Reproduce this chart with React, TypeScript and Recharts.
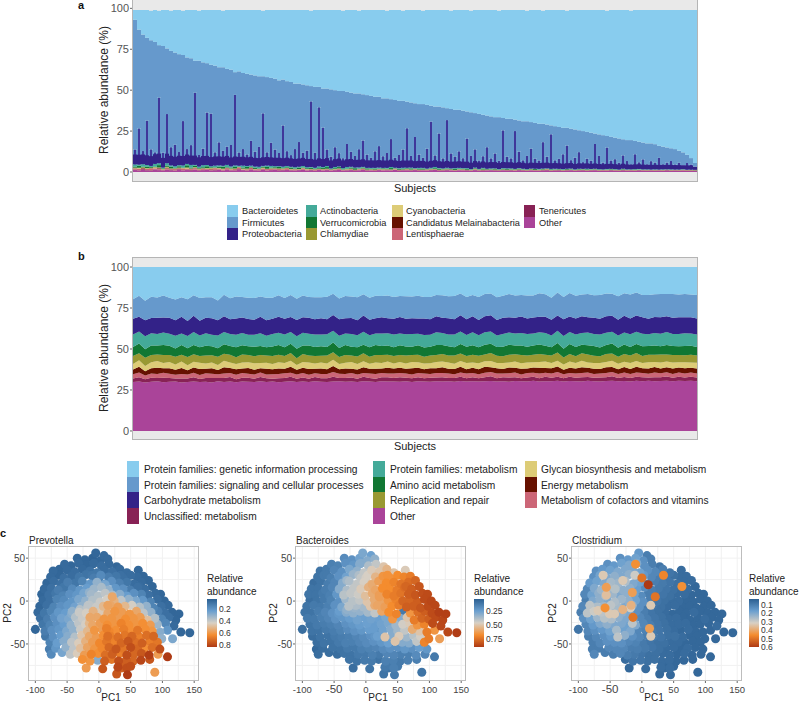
import { BarChart, Bar, AreaChart, Area, ScatterChart, Scatter, Cell, CartesianGrid, XAxis, YAxis, ZAxis } from "recharts";

const FONT = "'Liberation Sans', Arial, sans-serif";

// panel a, read per subject (left to right)
const firmicutesTop = [
  93,87,84,82,80.5,79.5,77.5,77,75.5,74,
  73,72,71.5,70,69.5,68,68,67,66.5,65.5,
  65,64,64,63,62.5,61,61.5,60.5,60,59.5,
  59,58.5,58.5,58,57.5,57,56,56.5,55.5,55,
  54,54,53.5,53,52.5,52,52,51,51,50.5,
  50,49.5,49.5,49,48.5,48,48,47.5,47,46.5,
  46,46,45,45,44.5,44,43.5,43.5,43,42.5,
  42,41.5,41.5,41,40.5,40,40,39.5,39,38.5,
  38,38,37.5,37,36.5,36,35.5,35,34.5,34,
  33.5,33.5,33,32.5,32.5,32,31.5,31,31,30.5,
  30,29.5,29.5,29,28.5,28,27.5,27,27,26.5,
  26,25.5,25,24.5,24,23.5,23,22.5,22,21.5,
  21,20.5,20,19.5,19.5,19,18.5,18,17.5,17.5,
  17,16,15.5,15,14.5,14,13,12,10.5,8.5,5.5,
];
const bacteroidetes = [
  6,12,15,17,18,19.5,21,22,23.5,24.5,
  26,27,27,29,29.5,31,30.5,32,32.5,33.5,
  34,35,34.5,36,36.5,38,37.5,38.5,39,39.5,
  40,40.5,40,41,41.5,42,43,42.5,43.5,44,
  45,45,45.5,46,46,47,47,48,48,48.5,
  49,49.5,49,50,50.5,51,50.5,51.5,52,52.5,
  53,53,54,53.5,54.5,55,55.5,55,56,56.5,
  57,57.5,57,58,58.5,59,59,59.5,60,60,
  61,61,61.5,62,62,63,63.5,64,64.5,65,
  65.5,65,66,66.5,66.5,67,67.5,68,67.5,68.5,
  69,69.5,69,70,70.5,71,71.5,72,71.5,72.5,
  73,73.5,74,74.5,75,75.5,76,76.5,76.5,77.5,
  78,78.5,79,79.5,79,80,80.5,81,81.5,81.5,
  82,83,83.5,84,84.5,85,86,87,88.5,90.5,93.5,
];
const proteobacteria = [
  9,22,8,27,10,7,40,9,30,11,
  13,8,27,9,12,44,7,10,32,32,
  8,14,9,11,13,43,8,10,7,15,
  9,12,32,8,14,10,8,25,9,7,
  11,15,8,10,40,9,36,24,10,7,
  12,8,6,14,9,7,11,16,8,6,
  10,13,7,9,17,6,8,11,24,7,
  19,8,6,12,28,7,21,6,29,9,
  7,10,6,18,8,11,5,7,13,6,
  9,5,23,7,6,23,10,5,8,12,
  6,5,16,7,21,5,6,9,14,5,
  7,10,4,6,5,15,8,4,13,5,
  6,4,8,5,3,9,4,6,3,5,
  4,7,3,4,5,3,4,2.5,4,3,2,
];
const actinobacteria = [
  1.4,.8,1.6,1,.7,1.8,1.2,.6,1.5,.9,
  1.1,.7,1.4,.9,1.7,.6,1,1.3,.8,.7,
  1.2,.9,.6,1.5,.8,1,.7,1.3,.6,.9,
  .8,1.1,.6,.9,1.2,.7,.5,1,.8,.6,
  .9,.6,1,.7,.5,.8,1.1,.6,.7,.5,
  .8,.5,.7,1,.6,.5,.8,.6,.4,.7,
  .5,.8,.4,.6,.7,.5,.4,.8,.5,.6,
  .4,.7,.5,.4,.6,.8,.4,.5,.6,.4,
  .5,.7,.4,.5,.3,.6,.4,.5,.3,.6,
  .4,.3,.5,.4,.6,.3,.4,.5,.3,.4,
  .3,.5,.4,.3,.4,.5,.3,.4,.3,.5,
  .3,.4,.3,.5,.3,.4,.3,.2,.4,.3,
  .3,.2,.4,.3,.2,.3,.4,.2,.3,.2,
  .3,.2,.3,.2,.3,.2,.2,.3,.2,.2,.1,
];
const verrucomicrobia = [
  .6,1.2,.3,.9,.5,.2,1.4,.4,.7,1,
  .3,.8,.2,1.3,.5,.9,.3,.6,1.1,.4,
  .2,.7,1.2,.3,.5,.9,.2,.6,1,.3,
  .7,.2,.5,1.1,.3,.6,.9,.2,.4,.8,
  .3,.9,.2,.5,.7,.2,.4,.6,1,.2,
  .5,.8,.2,.3,.6,.9,.2,.4,.7,.2,
  .6,.2,.5,.3,.8,.2,.6,.3,.4,.7,
  .2,.4,.6,.2,.3,.5,.7,.2,.4,.3,
  .6,.2,.3,.5,.2,.4,.2,.6,.3,.2,
  .4,.2,.3,.5,.2,.3,.4,.2,.3,.2,
  .5,.2,.3,.2,.4,.2,.3,.2,.4,.2,
  .2,.3,.2,.4,.2,.2,.3,.2,.2,.3,
  .2,.2,.3,.1,.2,.3,.1,.2,.2,.1,
  .2,.1,.2,.1,.2,.1,.2,.1,.1,.1,.1,
];
const chlamydiae = [
  .3,.1,.4,.2,.1,.3,.2,.1,.5,.2,
  .1,.3,.2,.4,.1,.2,.3,.1,.2,.4,
  .2,.1,.3,.1,.2,.3,.1,.2,.4,.1,
  .1,.2,.3,.1,.2,.1,.3,.2,.1,.2,
  .2,.1,.3,.1,.2,.1,.2,.3,.1,.1,
  .1,.2,.1,.2,.3,.1,.1,.2,.1,.2,
  .2,.1,.1,.2,.1,.2,.1,.1,.2,.1,
  .1,.2,.1,.1,.2,.1,.1,.2,.1,.1,
  .1,.1,.2,.1,.1,.1,.2,.1,.1,.1,
  .2,.1,.1,.1,.2,.1,.1,.1,.1,.2,
  .1,.1,.1,.2,.1,.1,.1,.1,.1,.1,
  .1,.1,.2,.1,.1,.1,.1,.1,.1,.1,
  .1,.1,.1,.1,.1,.1,.1,.1,.1,.1,
  .1,.1,.1,.1,.1,.1,.1,.1,.1,.1,.1,
];
const cyanobacteria = [
  .2,.4,.1,.3,.2,.5,.1,.2,.3,.1,
  .3,.1,.2,.4,.1,.3,.2,.1,.3,.2,
  .1,.3,.2,.1,.4,.1,.2,.3,.1,.2,
  .2,.1,.3,.1,.2,.2,.1,.3,.1,.2,
  .1,.2,.1,.3,.1,.2,.1,.1,.2,.1,
  .2,.1,.1,.2,.1,.1,.2,.1,.2,.1,
  .1,.1,.2,.1,.1,.2,.1,.1,.1,.2,
  .1,.1,.1,.2,.1,.1,.1,.2,.1,.1,
  .1,.2,.1,.1,.1,.1,.1,.2,.1,.1,
  .1,.1,.1,.1,.1,.2,.1,.1,.1,.1,
  .1,.1,.2,.1,.1,.1,.1,.1,.1,.1,
  .1,.1,.1,.1,.1,.1,.1,.1,.1,.1,
  .1,.1,.1,.1,.1,.1,.1,.1,.1,.1,
  .1,.1,.1,.1,.1,.1,.1,.1,.1,.1,.1,
];
const melainabacteria = [
  .2,.1,.3,.1,.2,.1,.3,.1,.2,.1,
  .1,.2,.1,.2,.1,.1,.2,.1,.1,.2,
  .1,.2,.1,.1,.2,.1,.2,.1,.1,.2,
  .1,.1,.2,.1,.1,.2,.1,.1,.2,.1,
  .1,.1,.1,.1,.1,.2,.1,.1,.1,.1,
  .1,.1,.1,.1,.1,.1,.2,.1,.1,.1,
  .1,.1,.1,.1,.1,.1,.1,.1,.1,.1,
  .1,.1,.1,.1,.1,.1,.1,.1,.1,.1,
  .1,.1,.1,.1,.1,.1,.1,.1,.1,.1,
  .1,.1,.1,.1,.1,.1,.1,.1,.1,.1,
  .1,.1,.1,.1,.1,.1,.1,.1,.1,.1,
  .1,.1,.1,.1,.1,.1,.1,.1,.1,.1,
  .1,.1,.1,.1,.1,.1,.1,.1,.1,.1,
  .1,.1,.1,.1,.1,.1,.1,.1,.1,.1,.1,
];
const lentisphaerae = [
  .5,.9,.3,.6,1,.4,.7,.3,.8,.5,
  .7,.3,.9,.4,.6,.8,.3,.7,.4,.6,
  .9,.4,.5,.8,.3,.6,.7,.3,.5,.8,
  .4,.6,.3,.7,.5,.3,.6,.4,.8,.3,
  .4,.2,.5,.3,.2,.4,.2,.4,.3,.4,
  .2,.4,.3,.2,.4,.2,.3,.4,.2,.3,
  .3,.2,.3,.2,.3,.2,.3,.2,.3,.2,
  .2,.3,.2,.3,.2,.2,.3,.2,.2,.3,
  .2,.2,.3,.1,.2,.3,.1,.2,.2,.1,
  .2,.1,.2,.2,.1,.2,.1,.2,.1,.2,
  .1,.2,.1,.2,.1,.2,.1,.1,.2,.1,
  .1,.2,.1,.1,.2,.1,.1,.1,.2,.1,
  .1,.1,.1,.2,.1,.1,.1,.1,.1,.1,
  .1,.1,.1,.1,.1,.1,.1,.1,.1,.1,.1,
];
const tenericutes = [
  .3,.2,.4,.2,.3,.1,.4,.2,.1,.3,
  .2,.3,.1,.2,.4,.1,.3,.2,.1,.2,
  .3,.1,.2,.3,.1,.2,.3,.1,.2,.3,
  .1,.2,.3,.1,.2,.1,.3,.2,.1,.2,
  .2,.1,.2,.1,.3,.1,.2,.1,.2,.1,
  .2,.1,.1,.2,.1,.2,.1,.2,.1,.1,
  .1,.2,.1,.1,.2,.1,.1,.2,.1,.1,
  .2,.1,.1,.1,.2,.1,.1,.1,.2,.1,
  .1,.1,.2,.1,.1,.1,.1,.2,.1,.1,
  .1,.2,.1,.1,.1,.1,.2,.1,.1,.1,
  .1,.1,.1,.2,.1,.1,.1,.1,.1,.1,
  .1,.1,.1,.1,.1,.1,.1,.1,.1,.1,
  .1,.1,.1,.1,.1,.1,.1,.1,.1,.1,
  .1,.1,.1,.1,.1,.1,.1,.1,.1,.1,.1,
];
const otherPhyla = [
  1.2,.9,1.4,1,.8,1.6,1.1,.9,1.3,1,
  .8,1.5,1,1.2,.9,1.4,.8,1.1,1.3,.9,
  1,1.4,.8,1.2,1,.9,1.5,1.1,.8,1.2,
  1,.8,1.3,.9,1.1,1.4,.8,1,1.2,.9,
  .8,1.1,1.3,.9,1,.7,1.2,.9,1.1,.8,
  1,1.3,.8,.9,1.1,.7,1,1.2,.8,.9,
  .7,1.1,.9,1,.8,1.2,.7,.9,1,.8,
  1.1,.7,.9,.8,1,1.2,.7,.8,1,.9,
  .7,1,.8,.9,.7,1.1,.8,.7,.9,1,
  .8,.7,1,.8,.9,.7,1,.8,.7,.9,
  .8,.7,.9,1,.7,.8,.9,.7,.8,1,
  .7,.8,.9,.7,.8,1,.7,.8,.7,.9,
  .8,.7,.9,.7,.8,.7,.9,.8,.7,.8,
  .7,.8,.7,.9,.7,.8,.7,.8,.7,.7,.6,
];

// panel b, read per subject; protein families: genetic is what is left up to 100
const signaling = [
  12,12.8,11.9,13,12.3,13.5,12.2,12.7,12,13.2,
  12.6,13.8,12.4,12.9,12.1,13.1,12.7,13.4,12.5,12.9,
  13.2,12.4,13.6,12.8,13.1,12.6,13.5,12.9,13.3,12.7,
  13.4,12.8,13.7,13,12.6,13.5,13.1,13.9,12.9,13.3,
  13.6,13,14,13.2,12.8,13.7,13.3,13.9,13.1,13.5,
  13,13.8,13.4,14.1,13.2,13.6,13.1,14,13.5,13.3,
  13.9,13.4,14.2,13.6,13.2,14,13.5,14.3,13.7,13.4,
  14.1,13.6,14.4,13.8,13.3,14.2,13.7,14.5,13.9,13.5,
  14.3,13.8,14.6,14,13.6,14.4,13.9,14.2,13.7,14.5,
  14,14.3,13.8,14.4,
];
const carbohydrate = [
  9.6,9,9.9,9.3,10,9.1,9.7,9.4,10.1,9.2,
  9.8,9,9.5,10,9.3,9.7,9.1,9.9,9.4,9.6,
  9.2,10,9.5,9.3,9.8,9.6,9.1,10,9.4,9.7,
  9.3,9.9,9.2,9.6,10.1,9.4,9.8,9.2,10,9.5,
  9.3,9.9,9.1,9.7,10,9.4,9.6,9.3,10.1,9.5,
  9.8,9.2,9.9,9.4,10,9.6,9.7,9.3,9.8,10,
  9.5,9.9,9.3,9.7,10.1,9.4,9.8,9.5,10,9.6,
  9.3,10.1,9.5,9.8,10.2,9.4,9.9,9.6,10,9.7,
  9.5,10.2,9.6,9.9,10.1,9.5,9.8,10,9.6,9.9,
  10.1,9.7,10,9.8,
];
const proteinMetabolism = [
  7.6,7.2,7.9,7.4,7,7.7,7.3,7.8,7.1,7.5,
  7.9,7.3,7.6,7,7.8,7.4,7.2,7.7,7.5,7,
  7.3,7.8,7.1,7.6,7.4,7.9,7.2,7.5,7.7,7.1,
  7.6,7.3,7.8,7.2,7.5,7,7.7,7.4,7.9,7.3,
  7.1,7.6,7.4,7.8,7.2,7.5,7.7,7,7.6,7.3,
  7.8,7.4,7.1,7.7,7.5,7.2,7.9,7.3,7.6,7.4,
  7,7.8,7.5,7.2,7.6,7.9,7.3,7.4,7.7,7.1,
  7.5,7.8,7.3,7.6,7.2,7.7,7.4,7.9,7.5,7.2,
  7.6,7.3,7.8,7.4,7.7,7.1,7.5,7.6,7.9,7.3,
  7.5,7.7,7.4,7.6,
];
const aminoAcid = [
  5.5,6,5.2,5.8,5.4,6.1,5.6,5,5.9,5.3,
  5.7,5.2,6,5.5,5.1,5.8,5.4,6.1,5.6,5.3,
  5.9,5.5,5,5.7,6,5.3,5.6,5.8,5.2,6.1,
  5.4,5.7,5.1,5.9,5.5,6,5.3,5.6,5.2,5.8,
  6.1,5.4,5.7,5.2,5.9,5.5,5,5.8,5.6,5.3,
  6,5.4,5.7,5.1,5.9,5.5,5.8,5.2,6,5.6,
  5.3,5.7,6.1,5.4,5.8,5.2,5.6,5.9,5.5,5.1,
  5.8,5.4,6,5.6,5.2,5.7,5.9,5.3,5.5,6,
  5.4,5.8,5.2,5.6,5.9,5.4,5.7,5.1,5.8,5.5,
  5.3,5.7,5.5,5.2,
];
const replication = [
  4.8,4.3,5,4.5,4.1,4.9,4.4,4.7,4.2,5,
  4.6,4.2,4.8,4.4,5.1,4.3,4.7,4.1,4.9,4.5,
  4.2,4.8,4.4,5,4.6,4.3,4.7,4.1,4.9,4.4,
  4.7,4.2,5,4.5,4.3,4.8,4.1,4.6,4.9,4.3,
  4.5,5,4.2,4.7,4.4,4.9,4.3,4.6,4.1,4.8,
  4.4,4.7,4.2,5,4.5,4.3,4.8,4.6,4.1,4.9,
  4.5,4.2,4.7,4.4,5,4.3,4.6,4.8,4.2,4.5,
  4.9,4.3,4.7,4.1,4.6,4.8,4.4,4.2,4.9,4.5,
  4.3,4.7,4.5,4.8,4.2,4.6,4.4,4.9,4.3,4.6,
  4.5,4.3,4.7,4.4,
];
const glycan = [
  3.4,3.9,3.1,3.6,4,3.2,3.7,3.3,3.9,3,
  3.5,3.8,3.2,3.6,3,3.9,3.4,3.1,3.7,3.5,
  3.9,3.2,3.6,3.1,3.8,3.4,3.7,3,3.5,3.9,
  3.2,3.6,3.4,3.8,3.1,3.5,4,3.3,3.6,3.1,
  3.8,3.3,3.7,3,3.5,3.2,3.9,3.4,3.6,3.1,
  3.7,3.4,3.9,3.2,3.5,3.8,3.1,3.6,3.3,3.9,
  3.2,3.6,3.1,3.8,3.4,3.7,3.2,3.5,3.9,3.3,
  3.6,3.1,3.7,3.4,3.9,3.2,3.5,3.6,3.1,3.8,
  3.4,3.2,3.7,3.5,3.3,3.8,3.1,3.6,3.4,3.7,
  3.2,3.6,3.3,3.5,
];
const energy = [
  2.9,3.5,2.6,3.2,3.8,2.7,3.4,3,3.6,2.6,
  3.2,3.7,2.8,3.3,2.6,3.8,3,3.4,2.7,3.5,
  3,2.6,3.6,3.1,3.4,2.8,3.7,2.9,3.2,3.5,
  2.7,3.3,3,3.8,2.8,3.4,2.6,3.1,3.6,2.9,
  3.3,2.7,3.5,3,3.2,2.8,3.7,3.1,2.6,3.4,
  3,3.6,2.8,3.2,3.5,2.7,3.3,3.1,3.7,2.9,
  3.2,2.7,3.5,3,3.4,2.8,3.2,3.6,2.9,3.1,
  3.4,2.8,3.3,3,3.6,2.9,3.2,2.7,3.5,3.1,
  2.9,3.3,3,3.5,2.8,3.2,3.4,2.9,3.1,3.3,
  3,3.2,2.9,3.1,
];
const cofactors = [
  2.6,2.9,2.4,2.7,2.5,3,2.6,2.3,2.8,2.5,
  2.7,2.4,2.9,2.6,2.3,2.8,2.5,2.7,3,2.4,
  2.6,2.8,2.3,2.7,2.5,2.9,2.4,2.6,2.8,2.5,
  2.3,2.7,2.5,2.9,2.6,2.4,2.8,2.5,2.3,2.7,
  2.9,2.6,2.4,2.8,2.5,2.7,2.3,2.6,2.9,2.4,
  2.7,2.5,2.8,2.3,2.6,2.9,2.5,2.4,2.7,2.6,
  2.8,2.4,2.6,2.9,2.3,2.7,2.5,2.8,2.4,2.6,
  2.9,2.5,2.3,2.7,2.6,2.8,2.4,2.5,2.7,2.6,
  2.4,2.8,2.5,2.6,2.7,2.3,2.9,2.5,2.6,2.4,
  2.7,2.5,2.6,2.4,
];
const unclassified = [
  2.2,2.7,1.9,2.4,2,2.8,2.3,1.8,2.5,2.1,
  2.6,1.9,2.3,2.7,2,2.4,2.8,1.9,2.2,2.5,
  2,2.6,2.2,1.8,2.5,2.3,2.7,2,2.4,1.9,
  2.6,2.1,2.4,2.8,1.9,2.3,2.5,2,2.7,2.2,
  1.9,2.4,2.6,2.1,2.8,2,2.3,2.5,1.9,2.4,
  2.2,2.7,2,2.3,2.6,1.9,2.4,2.1,2.5,2.8,
  2,2.3,2.6,2.2,1.9,2.5,2.4,2,2.7,2.2,
  2.4,1.9,2.5,2.1,2.6,2.3,2,2.4,2.2,2.6,
  2,2.4,2.1,2.5,2.3,1.9,2.4,2.2,2.6,2,
  2.3,2.1,2.4,2.2,
];
const otherFunctions = [
  29.8,30.1,29.6,30,30.3,29.7,30,30.2,29.5,29.9,
  30.2,29.8,30,29.6,30.3,29.9,30.1,29.7,30.2,30,
  29.8,30.3,29.9,30.1,29.7,30,30.4,29.8,30.2,29.9,
  30.3,30,29.8,30.2,30.4,30,30.1,29.9,30.3,30.1,
  29.9,30.4,30.1,30.2,30,30.4,29.9,30.3,30.2,30,
  30.4,30.1,30.3,30,30.5,30.2,30.4,30.1,30.3,30.5,
  30.2,30.4,30,30.5,30.3,30.1,30.6,30.2,30.4,30.3,
  30.6,30.2,30.5,30.3,30.1,30.6,30.4,30.2,30.5,30.7,
  30.3,30.5,30.2,30.6,30.4,30.7,30.3,30.5,30.6,30.4,
  30.7,30.5,30.6,30.4,
];

const phylumNames = ["Bacteroidetes","Firmicutes","Proteobacteria","Actinobacteria","Verrucomicrobia","Chlamydiae","Cyanobacteria","Candidatus Melainabacteria","Lentisphaerae","Tenericutes","Other"];
const functionNames = ["Protein families: genetic information processing","Protein families: signaling and cellular processes","Carbohydrate metabolism","Protein families: metabolism","Amino acid metabolism","Replication and repair","Glycan biosynthesis and metabolism","Energy metabolism","Metabolism of cofactors and vitamins","Unclassified: metabolism","Other"];
const stackColors = ["#88CCEE","#6699CC","#332288","#44AA99","#117733","#999933","#DDCC77","#661100","#CC6677","#882255","#AA4499"];

// panel c, same subjects in all three plots (rows from top of the cloud down)
const pc1 = [
  -5,8,
  -34,-22,-10,2,14,
  -54,-44,-32,-20,-8,4,16,28,
  -72,-62,-50,-38,-26,-14,-3,9,21,33,44,62,
  -76,-66,-55,-43,-31,-20,-8,3,15,27,38,50,60,70,
  -82,-71,-60,-49,-37,-26,-14,-3,9,20,32,44,55,67,78,
  -86,-75,-64,-53,-42,-30,-19,-8,4,15,26,38,49,61,72,84,
  -90,-79,-68,-57,-46,-35,-24,-12,-1,10,21,33,44,55,67,78,89,97,
  -88,-77,-66,-55,-43,-32,-21,-10,2,13,24,35,47,58,69,81,92,103,
  -93,-82,-71,-60,-49,-38,-27,-15,-4,7,18,30,41,52,64,75,86,98,109,
  -96,-86,-75,-64,-53,-42,-31,-20,-9,3,14,25,36,48,59,70,82,93,104,115,126,
  -92,-81,-70,-59,-48,-37,-26,-14,-3,8,20,31,42,54,65,76,88,99,110,121,
  -88,-77,-66,-55,-44,-32,-21,-10,2,13,24,35,47,58,69,81,92,105,118,
  -100,-85,-74,-63,-51,-40,-29,-18,-7,5,16,27,39,50,61,73,84,96,108,129,143,
  -84,-72,-60,-49,-38,-27,-15,-4,7,18,30,41,52,64,75,86,99,116,
  -77,-66,-55,-43,-32,-21,-10,1,12,24,35,46,57,68,80,92,
  -78,-68,-52,-40,-29,-18,-7,5,16,27,38,50,61,72,84,96,
  -75,-58,-45,-34,-23,-12,-1,10,21,33,44,55,67,79,93,
  -26,-14,-2,9,20,31,43,54,66,80,108,
  -20,6,30,38,44,50,
  28,45,88,35,
  -10,-11,-61,0,34,63,10,-56,-56,21,-15,14,-17,-58,-30,-69,-51,-43,-18,-14,-15,12,14,-30,
];
const pc2 = [
  56,53,
  50,48,50,47,49,
  43,41,44,42,44,41,43,40,
  35,37,36,34,37,35,33,36,34,37,33,36,
  28,30,27,29,28,31,27,30,28,29,27,30,28,29,
  21,23,20,22,21,23,20,22,20,23,21,22,20,22,24,
  14,15,13,16,14,13,15,14,16,13,15,14,13,16,14,17,
  8,7,9,6,8,7,9,8,6,9,7,8,6,9,8,7,9,8,
  1,0,2,1,-1,2,0,1,-1,2,0,1,2,0,1,-1,2,0,
  -6,-5,-7,-6,-5,-7,-6,-5,-7,-6,-5,-7,-6,-5,-7,-6,-8,-6,-5,
  -13,-14,-12,-13,-14,-12,-13,-14,-12,-13,-14,-12,-13,-15,-12,-14,-13,-12,-14,-13,-15,
  -20,-21,-19,-20,-21,-19,-20,-22,-19,-21,-20,-19,-21,-20,-19,-22,-20,-21,-19,-22,
  -27,-28,-26,-27,-28,-26,-27,-28,-26,-28,-27,-26,-28,-27,-26,-28,-27,-26,-29,
  -33,-35,-34,-33,-35,-34,-33,-35,-34,-33,-35,-34,-33,-35,-34,-33,-35,-36,-34,-36,-37,
  -41,-42,-40,-41,-42,-40,-41,-42,-40,-41,-42,-40,-41,-42,-40,-41,-44,-44,
  -48,-49,-47,-48,-49,-47,-48,-49,-47,-48,-49,-47,-48,-49,-47,-48,
  -56,-55,-54,-56,-55,-54,-56,-55,-54,-56,-55,-54,-56,-55,-54,-56,
  -62,-60,-62,-61,-63,-62,-61,-63,-62,-61,-63,-62,-61,-63,-62,
  -68,-70,-69,-70,-68,-70,-69,-70,-69,-68,-65,
  -78,-79,-77,-75,-78,-76,
  -85,-86,-83,-78,
  43,30,30,27,30,17,19,16,7,5,10,-5,-5,-8,-10,-11,-15,-15,-8,-19,-26,-32,-41,24,
];
const prevotella = [
  .05,.06,
  .05,.05,.04,.05,.06,
  .06,.05,.06,.05,.06,.07,.06,.05,
  .06,.05,.06,.07,.06,.08,.1,.07,.08,.06,.07,.05,
  .06,.05,.08,.07,.1,.09,.12,.16,.12,.1,.08,.07,.06,.05,
  .05,.07,.08,.12,.1,.14,.2,.3,.2,.18,.13,.1,.07,.06,.05,
  .06,.08,.12,.1,.16,.2,.22,.32,.34,.3,.2,.18,.12,.08,.07,.05,
  .05,.08,.1,.14,.18,.2,.25,.33,.36,.38,.34,.28,.22,.18,.14,.08,.06,.05,
  .06,.08,.14,.16,.2,.26,.3,.36,.4,.42,.52,.38,.3,.26,.2,.14,.07,.05,
  .05,.08,.14,.18,.2,.24,.3,.38,.4,.5,.55,.58,.5,.42,.36,.3,.14,.08,.06,
  .06,.1,.14,.2,.22,.3,.4,.42,.52,.45,.55,.6,.58,.6,.55,.38,.3,.12,.08,.05,.05,
  .08,.12,.18,.24,.26,.36,.4,.48,.55,.6,.6,.58,.62,.6,.58,.48,.36,.14,.08,.05,
  .1,.14,.18,.22,.3,.38,.42,.55,.58,.62,.6,.65,.62,.6,.62,.58,.32,.15,.06,
  .05,.12,.18,.2,.26,.3,.4,.5,.6,.58,.64,.62,.66,.62,.68,.62,.6,.28,.2,.05,.05,
  .1,.18,.22,.28,.36,.46,.55,.58,.62,.66,.7,.68,.72,.66,.7,.72,.3,.26,
  .14,.22,.28,.38,.44,.52,.58,.64,.68,.65,.72,.76,.7,.74,.66,.68,
  .12,.2,.3,.38,.48,.56,.6,.64,.72,.76,.68,.78,.72,.62,.7,.78,
  .16,.25,.38,.44,.58,.65,.62,.7,.74,.66,.78,.72,.76,.82,.58,
  .62,.6,.28,.74,.68,.78,.74,.72,.8,.76,.83,
  .58,.76,.8,.72,.78,.78,
  .76,.83,.58,.74,
  .05,.1,.05,.1,.08,.07,.25,.1,.12,.55,.3,.56,.38,.16,.36,.12,.2,.28,.38,.55,.5,.66,.7,.1,
];
const bacteroides = [
  .28,.25,
  .18,.2,.26,.3,.32,
  .14,.15,.2,.22,.3,.38,.42,.5,
  .1,.12,.16,.2,.28,.32,.42,.48,.5,.55,.5,.48,
  .1,.12,.14,.2,.26,.34,.42,.46,.55,.65,.66,.68,.7,.72,
  .08,.1,.13,.16,.3,.38,.42,.46,.55,.62,.68,.7,.74,.76,.78,
  .1,.1,.13,.16,.3,.38,.42,.48,.56,.6,.68,.68,.72,.76,.8,.82,
  .1,.1,.12,.14,.22,.4,.42,.44,.52,.58,.62,.7,.72,.74,.8,.82,.84,.85,
  .08,.1,.12,.15,.2,.35,.4,.42,.5,.58,.6,.65,.7,.78,.78,.8,.85,.86,
  .1,.12,.12,.14,.2,.28,.4,.38,.36,.5,.6,.62,.68,.72,.8,.8,.82,.85,.86,
  .1,.1,.13,.16,.2,.24,.3,.32,.33,.36,.42,.6,.68,.7,.12,.65,.76,.8,.85,.88,.88,
  .12,.12,.14,.16,.2,.22,.24,.26,.25,.26,.25,.28,.65,.3,.5,.72,.78,.8,.85,.86,
  .1,.12,.13,.14,.16,.2,.22,.24,.25,.24,.26,.28,.35,.45,.48,.65,.7,.85,.86,
  .08,.1,.1,.12,.13,.15,.18,.2,.22,.24,.22,.26,.3,.35,.42,.58,.5,.72,.65,.86,.89,
  .08,.1,.1,.12,.13,.14,.16,.18,.2,.25,.5,.3,.48,.35,.4,.45,.72,.62,
  .08,.1,.1,.12,.14,.14,.16,.18,.2,.22,.25,.5,.3,.3,.42,.7,
  .06,.08,.1,.1,.12,.12,.14,.15,.16,.18,.2,.2,.22,.2,.24,.22,
  .08,.08,.08,.1,.1,.12,.12,.14,.12,.16,.16,.14,.14,.18,.16,
  .1,.1,.12,.12,.1,.14,.14,.12,.14,.14,.12,
  .08,.1,.12,.12,.14,.12,
  .1,.12,.1,.1,
  .3,.38,.12,.45,.66,.78,.58,.12,.14,.62,.42,.58,.38,.13,.32,.12,.18,.22,.34,.25,.22,.24,.22,.35,
];
const clostridium = [
  .16,.1,
  .14,.16,.18,.14,.1,
  .14,.16,.18,.2,.2,.14,.1,.08,
  .14,.16,.18,.2,.2,.2,.18,.14,.12,.1,.08,.06,
  .14,.18,.2,.22,.2,.22,.2,.16,.12,.1,.08,.07,.06,.06,
  .16,.18,.2,.25,.24,.26,.2,.18,.12,.1,.09,.08,.07,.06,.06,
  .12,.2,.24,.26,.27,.22,.22,.17,.13,.1,.09,.08,.07,.06,.06,.05,
  .12,.18,.22,.26,.24,.2,.22,.18,.13,.1,.08,.08,.07,.06,.06,.05,.05,.05,
  .1,.2,.22,.2,.26,.24,.22,.18,.14,.1,.08,.07,.06,.06,.05,.05,.05,.05,
  .12,.28,.26,.24,.28,.25,.2,.22,.14,.09,.08,.07,.06,.06,.05,.05,.05,.05,.05,
  .1,.28,.3,.28,.26,.24,.22,.2,.14,.1,.08,.07,.06,.05,.05,.05,.06,.05,.05,.05,.05,
  .14,.18,.24,.27,.26,.22,.2,.18,.12,.1,.08,.07,.06,.06,.05,.05,.05,.06,.05,.05,
  .12,.16,.2,.22,.2,.2,.18,.2,.12,.1,.08,.07,.06,.06,.06,.05,.05,.05,.06,
  .08,.12,.14,.16,.18,.25,.18,.2,.12,.11,.09,.08,.07,.06,.05,.06,.05,.05,.05,.05,.05,
  .1,.12,.14,.16,.28,.22,.14,.12,.1,.09,.08,.07,.07,.06,.05,.05,.05,.05,
  .1,.12,.14,.14,.14,.12,.11,.09,.08,.07,.07,.06,.06,.05,.05,.05,
  .1,.1,.12,.12,.12,.1,.1,.09,.08,.07,.06,.06,.05,.06,.05,.05,
  .12,.1,.1,.12,.1,.09,.08,.07,.07,.06,.06,.05,.06,.05,.05,
  .06,.08,.08,.07,.07,.06,.06,.05,.05,.05,.05,
  .05,.06,.06,.05,.06,.05,
  .05,.05,.05,.05,
  .45,.3,.33,.5,.47,.45,.6,.42,.35,.5,.42,.33,.38,.45,.38,.33,.33,.33,.32,.5,.28,.42,.33,.33,
];

const rampStops = ["#2b5f91","#6a9fcf","#d8d0c4","#f48c2e","#ae3a14"];

const lowerPhyla = [actinobacteria, verrucomicrobia, chlamydiae, cyanobacteria, melainabacteria, lentisphaerae, tenericutes, otherPhyla];

const phylumTable = firmicutesTop.map((top, i) => {
  const below = lowerPhyla.reduce((sum, arr) => sum + arr[i], 0) + proteobacteria[i];
  return {
    subject: i,
    s0: bacteroidetes[i],
    s1: Math.max(top - below, 0),
    s2: proteobacteria[i],
    s3: actinobacteria[i],
    s4: verrucomicrobia[i],
    s5: chlamydiae[i],
    s6: cyanobacteria[i],
    s7: melainabacteria[i],
    s8: lentisphaerae[i],
    s9: tenericutes[i],
    s10: otherPhyla[i],
  };
});

const functionSeries = [signaling, carbohydrate, proteinMetabolism, aminoAcid, replication, glycan, energy, cofactors, unclassified, otherFunctions];
const functionTable = signaling.map((_, i) => {
  const row: Record<string, number> = { subject: i };
  let sum = 0;
  functionSeries.forEach((arr, k) => {
    row[`s${k + 1}`] = arr[i];
    sum += arr[i];
  });
  row.s0 = 100 - sum;
  return row;
});

function hexToRgb(h: string) {
  return [1, 3, 5].map((p) => parseInt(h.slice(p, p + 2), 16));
}

function rampColor(value: number, min: number, max: number) {
  const t = Math.min(Math.max((value - min) / (max - min), 0), 1) * (rampStops.length - 1);
  const k = Math.min(Math.floor(t), rampStops.length - 2);
  const a = hexToRgb(rampStops[k]);
  const b = hexToRgb(rampStops[k + 1]);
  const c = a.map((v, j) => Math.round(v + (b[j] - v) * (t - k)));
  return `rgb(${c[0]},${c[1]},${c[2]})`;
}

// the real bars are much thinner than one band here: solid low part, thin line above it
function ProteoBar({ x, y, width, height, payload }: any) {
  const solid = (6 - (3.5 * payload.subject) / 140) * 1.634;
  if (height <= solid) return <rect x={x} y={y} width={width} height={height} fill={stackColors[2]} />;
  return (
    <g>
      <rect x={x} y={y} width={width} height={height} fill={stackColors[1]} />
      <rect x={x + 1} y={y} width={2} height={height} fill="#40379a" />
      <rect x={x} y={y + height - solid} width={width} height={solid} fill={stackColors[2]} />
    </g>
  );
}

const yAxisProps = {
  width: 133,
  type: "number" as const,
  allowDataOverflow: true,
  ticks: [0, 25, 50, 75, 100],
  interval: 0,
  axisLine: false,
  tickSize: 3,
  tickMargin: 1,
  tickLine: { stroke: "#666" },
  tick: { fontSize: 11, fill: "#555", fontFamily: FONT },
};
const chartMargin = { top: 0, right: 102, bottom: 0, left: 0 };

function PanelFrame({ top, children }: { top: number; children: any }) {
  return (
    <>
      <div style={{ position: "absolute", left: 133, top, width: 564, height: 181, background: "#e9e9e9" }} />
      <div style={{ position: "absolute", left: 0, top }}>{children}</div>
      <div style={{ position: "absolute", left: 132, top: top - 1, width: 566, height: 183, boxSizing: "border-box", border: "1.5px solid #b5b5b5" }} />
      <div style={{ position: "absolute", left: 415, top: top + 182, transform: "translateX(-50%)", font: `11px ${FONT}`, color: "#222" }}>Subjects</div>
      <div style={{ position: "absolute", left: 104, top: top + 90, transform: "translate(-50%,-50%) rotate(-90deg)", font: `12px ${FONT}`, color: "#222", whiteSpace: "nowrap" }}>
        Relative abundance (%)
      </div>
    </>
  );
}

function StackLegend({ names, cols, font, rowH, swatchW }: { names: string[]; cols: { swatch: number; text: number; rows: { k: number; y: number }[] }[]; font: number; rowH: number; swatchW: number }) {
  return (
    <>
      {cols.map((col) =>
        col.rows.map(({ k, y }) => (
          <div key={k}>
            <div style={{ position: "absolute", left: col.swatch, top: y - rowH / 2, width: swatchW, height: rowH, background: stackColors[k] }} />
            <div style={{ position: "absolute", left: col.text, top: y, transform: "translateY(-50%)", font: `${font}px ${FONT}`, color: "#222", whiteSpace: "nowrap" }}>{names[k]}</div>
          </div>
        ))
      )}
    </>
  );
}

function ScatterPanel({ boxLeft, title, values, range, legendTicks, labelLeft, legendLeft, bigTick }: { boxLeft: number; title: string; values: number[]; range: number[]; legendTicks: number[]; labelLeft: number; legendLeft: number; bigTick: boolean }) {
  const points = pc1.map((x, i) => ({ x, y: pc2[i], v: values[i] })).sort((a, b) => a.v - b.v);
  const renderTick = ({ x, y, payload }: any) => (
    <text x={x} y={y + 8} textAnchor="middle" fontFamily={FONT} fontSize={bigTick && payload.value === -50 ? 11.5 : 9.5} fill="#444">
      {payload.value}
    </text>
  );
  const barTop = 599;
  const barH = 48;
  return (
    <>
      <div style={{ position: "absolute", left: boxLeft - 29, top: 532 }}>
        <ScatterChart width={215} height={171} margin={{ top: 15, right: 17, bottom: 0, left: 0 }}>
          <CartesianGrid stroke="#f1f1f1" horizontalValues={[-75, -50, -25, 0, 25, 50]} verticalValues={[-100, -75, -50, -25, 0, 25, 50, 75, 100, 125, 150]} />
          <XAxis type="number" dataKey="x" domain={[-110, 156]} allowDataOverflow ticks={[-100, -50, 0, 50, 100, 150]} interval={0} height={23} axisLine={false} tickSize={3} tickLine={{ stroke: "#666" }} tick={renderTick} />
          <YAxis type="number" dataKey="y" domain={[-92, 63]} allowDataOverflow ticks={[-50, 0, 50]} interval={0} width={29} axisLine={false} tickSize={3} tickMargin={1} tickLine={{ stroke: "#666" }} tick={{ fontSize: 10, fill: "#444", fontFamily: FONT }} />
          <ZAxis range={[42, 42]} />
          <Scatter data={points} isAnimationActive={false}>
            {points.map((p, i) => (
              <Cell key={i} fill={rampColor(p.v, range[0], range[1])} />
            ))}
          </Scatter>
        </ScatterChart>
      </div>
      <div style={{ position: "absolute", left: boxLeft - 1, top: 546, width: 171, height: 135, boxSizing: "border-box", border: "1.2px solid #bdbdbd" }} />
      <div style={{ position: "absolute", left: boxLeft, top: 535, font: `10px ${FONT}`, color: "#222" }}>{title}</div>
      <div style={{ position: "absolute", left: boxLeft + 82, top: 692, transform: "translateX(-50%)", font: `10px ${FONT}`, color: "#222" }}>PC1</div>
      <div style={{ position: "absolute", left: labelLeft, top: 613, transform: "translate(-50%,-50%) rotate(-90deg)", font: `10px ${FONT}`, color: "#222" }}>PC2</div>
      <div style={{ position: "absolute", left: legendLeft, top: 573, font: `10px/12.5px ${FONT}`, color: "#222" }}>
        Relative
        <br />
        abundance
      </div>
      <div style={{ position: "absolute", left: legendLeft, top: barTop, width: 10, height: barH, background: `linear-gradient(to bottom, ${rampStops.join(",")})` }} />
      {legendTicks.map((t) => (
        <div key={t} style={{ position: "absolute", left: legendLeft + 12, top: barTop + ((t - range[0]) / (range[1] - range[0])) * barH, transform: "translateY(-50%)", font: `8.5px ${FONT}`, color: "#333" }}>
          {t.toFixed(range[1] > 0.85 ? 2 : 1)}
        </div>
      ))}
    </>
  );
}

const letter = (text: string, left: number, top: number) => (
  <div style={{ position: "absolute", left, top, font: `bold 11px ${FONT}`, color: "#111" }}>{text}</div>
);

export default function App() {
  return (
    <div style={{ position: "absolute", left: 0, top: 0, width: 799, height: 703, overflow: "hidden", background: "#fff" }}>
      {letter("a", 78, -1)}
      {letter("b", 78, 250)}
      {letter("c", 0, 527)}
      <PanelFrame top={0}>
        <BarChart width={799} height={200} data={phylumTable} barCategoryGap={0} barGap={0} margin={chartMargin}>
          <XAxis dataKey="subject" height={19} tick={false} axisLine={false} tickLine={false} />
          <YAxis {...yAxisProps} domain={[-5.5, 105.1]} />
          {stackColors
            .map((color, k) => <Bar key={k} dataKey={`s${k}`} stackId="a" fill={color} stroke="none" isAnimationActive={false} shape={k === 2 ? ProteoBar : undefined} />)
            .reverse()}
        </BarChart>
      </PanelFrame>
      <StackLegend
        names={phylumNames}
        font={9.2}
        rowH={11.5}
        swatchW={11}
        cols={[
          { swatch: 227, text: 242, rows: [{ k: 0, y: 211 }, { k: 1, y: 222.5 }, { k: 2, y: 234 }] },
          { swatch: 306, text: 320, rows: [{ k: 3, y: 211 }, { k: 4, y: 222.5 }, { k: 5, y: 234 }] },
          { swatch: 392, text: 406, rows: [{ k: 6, y: 211 }, { k: 7, y: 222.5 }, { k: 8, y: 234 }] },
          { swatch: 524, text: 539, rows: [{ k: 9, y: 211 }, { k: 10, y: 222.5 }] },
        ]}
      />
      <PanelFrame top={258}>
        <AreaChart width={799} height={200} data={functionTable} margin={chartMargin}>
          <XAxis dataKey="subject" height={19} tick={false} axisLine={false} tickLine={false} />
          <YAxis {...yAxisProps} domain={[-4.9, 105.5]} />
          {stackColors
            .map((color, k) => <Area key={k} type="linear" dataKey={`s${k}`} stackId="a" fill={color} fillOpacity={1} stroke="none" dot={false} activeDot={false} isAnimationActive={false} />)
            .reverse()}
        </AreaChart>
      </PanelFrame>
      <StackLegend
        names={functionNames}
        font={10.2}
        rowH={15.5}
        swatchW={12}
        cols={[
          { swatch: 127, text: 144, rows: [{ k: 0, y: 469 }, { k: 1, y: 484.5 }, { k: 2, y: 500 }, { k: 9, y: 516 }] },
          { swatch: 373, text: 390, rows: [{ k: 3, y: 469 }, { k: 4, y: 484.5 }, { k: 5, y: 500 }, { k: 10, y: 516 }] },
          { swatch: 525, text: 541, rows: [{ k: 6, y: 469 }, { k: 7, y: 484.5 }, { k: 8, y: 500 }] },
        ]}
      />
      <ScatterPanel boxLeft={29} title="Prevotella" values={prevotella} range={[0.025, 0.83]} legendTicks={[0.2, 0.4, 0.6, 0.8]} labelLeft={7} legendLeft={207} bigTick={false} />
      <ScatterPanel boxLeft={296} title="Bacteroides" values={bacteroides} range={[0.03, 0.895]} legendTicks={[0.25, 0.5, 0.75]} labelLeft={273} legendLeft={474} bigTick />
      <ScatterPanel boxLeft={572} title="Clostridium" values={clostridium} range={[0.03, 0.6]} legendTicks={[0.1, 0.2, 0.3, 0.4, 0.5, 0.6]} labelLeft={552} legendLeft={749} bigTick />
    </div>
  );
}
